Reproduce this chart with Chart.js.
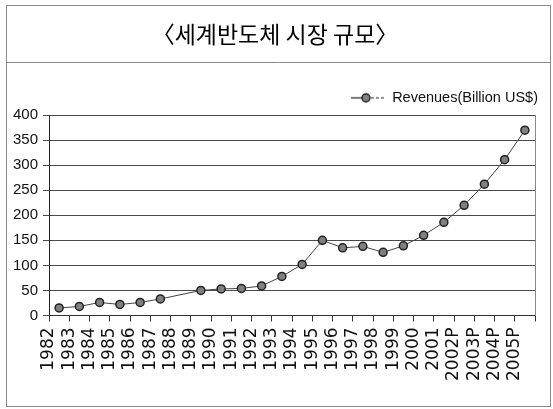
<!DOCTYPE html>
<html>
<head>
<meta charset="utf-8">
<script src="https://cdn.jsdelivr.net/npm/chart.js@4.4.1/dist/chart.umd.min.js"></script>
<style>
  html, body { margin: 0; padding: 0; background: #fff; }
  #wrap { width: 553px; height: 409px; }
</style>
</head>
<body>
<div id="wrap"><canvas id="chart" width="553" height="409"></canvas></div>
<script>
const years = ["1982", "1983", "1984", "1985", "1986", "1987", "1988", "1989", "1990", "1991", "1992", "1993",
    "1994", "1995", "1996", "1997", "1998", "1999", "2000", "2001", "2002P", "2003P", "2004P", "2005P"];
// 1988 has no marker in the original
const revenues = [15, 18, 26, 22, 26, 33, null, 50, 53, 54, 59, 78,
    102, 150, 135, 138, 126, 139, 160, 186, 220, 262, 311, 370];
const yTicks = [0, 50, 100, 150, 200, 250, 300, 350, 400];

const titleText = "〈세계반도체 시장 규모〉";
const seriesName = "Revenues(Billion US$)";

// points sit in the middle of each year slot, labels on the slot edges
const points = revenues.map((v, i) => ({ x: i + 0.5, y: v }));

// legend marker: line with a dot
function legendMarker() {
    const c = document.createElement("canvas");
    c.width = 34;
    c.height = 12;
    const g = c.getContext("2d");
    g.strokeStyle = "#222";
    g.lineWidth = 1.2;
    g.beginPath();
    g.moveTo(0, 6);
    g.lineTo(12, 6);
    g.stroke();
    g.setLineDash([3, 2]);
    g.beginPath();
    g.moveTo(20, 6);
    g.lineTo(34, 6);
    g.stroke();
    g.setLineDash([]);
    g.beginPath();
    g.arc(15, 6, 4, 0, Math.PI * 2);
    g.fillStyle = "#808080";
    g.fill();
    g.lineWidth = 1.5;
    g.stroke();
    return c;
}

const framePlugin = {
    id: "frame",
    beforeDraw(chart) {
        const ctx = chart.ctx;
        ctx.save();
        ctx.fillStyle = "#fff";
        ctx.fillRect(0, 0, chart.width, chart.height);
        ctx.strokeStyle = "#8a8a8a";
        ctx.lineWidth = 1;
        ctx.strokeRect(6.5, 5.5, 544, 401);
        ctx.beginPath();
        ctx.moveTo(6.5, 62.5);
        ctx.lineTo(550.5, 62.5);
        ctx.stroke();
        ctx.restore();
    }
};

new Chart(document.getElementById("chart"), {
    type: "line",
    data: {
        datasets: [{
            label: seriesName,
            data: points,
            spanGaps: true,
            borderColor: "#444",
            borderWidth: 1,
            pointRadius: 4,
            pointBackgroundColor: "#808080",
            pointBorderColor: "#222",
            pointBorderWidth: 1.5,
            tension: 0
        }]
    },
    options: {
        responsive: false,
        devicePixelRatio: 1,
        animation: false,
        layout: { padding: { left: 2, right: 5, top: 0, bottom: 22 } },
        plugins: {
            title: {
                display: true,
                text: titleText,
                color: "#000",
                font: { family: "'Noto Sans CJK KR'", size: 23, weight: "normal", lineHeight: 1.2 },
                padding: { top: 20, bottom: 33 }
            },
            legend: {
                display: true,
                position: "top",
                align: "end",
                labels: {
                    usePointStyle: true,
                    pointStyle: legendMarker(),
                    pointStyleWidth: 34,
                    color: "#111",
                    padding: 10,
                    font: { family: "'Liberation Sans'", size: 14.5 }
                }
            },
            tooltip: { enabled: false }
        },
        scales: {
            x: {
                type: "linear",
                min: 0,
                max: years.length,
                afterFit: (scale) => { scale.paddingLeft = 0; scale.paddingRight = 0; },
                grid: { drawOnChartArea: false, drawTicks: true, tickLength: 6, color: "#333" },
                border: { display: true, color: "#333", width: 1 },
                ticks: {
                    stepSize: 1,
                    autoSkip: false,
                    minRotation: 90,
                    maxRotation: 90,
                    padding: 6,
                    color: "#111",
                    font: { family: "'DejaVu Sans'", size: 17 },
                    callback: (v) => years[v] !== undefined ? years[v] : ""
                }
            },
            y: {
                min: yTicks[0],
                max: yTicks[yTicks.length - 1],
                afterBuildTicks: (scale) => { scale.ticks = yTicks.map(v => ({ value: v })); },
                afterFit: (scale) => { scale.width = 47; },
                grid: { color: "#4a4a4a", lineWidth: 1, tickLength: 6 },
                border: { display: true, color: "#222", width: 1 },
                ticks: {
                    padding: 5,
                    color: "#111",
                    font: { family: "'Liberation Sans'", size: 15 }
                }
            },
            yRight: {
                position: "right",
                min: 0,
                max: 400,
                afterFit: (scale) => { scale.width = 13; },
                grid: { drawOnChartArea: false, drawTicks: false },
                border: { display: true, color: "#8a8a8a", width: 1 },
                ticks: { display: false }
            }
        }
    },
    plugins: [framePlugin]
});
</script>
</body>
</html>
